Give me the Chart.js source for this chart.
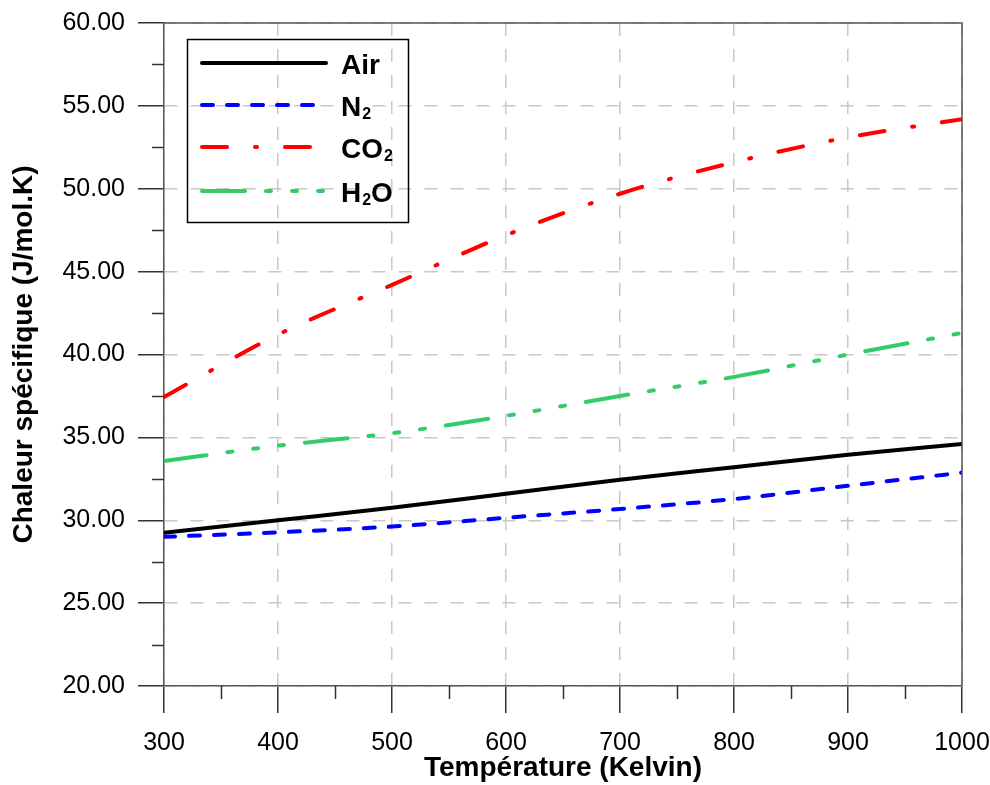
<!DOCTYPE html>
<html>
<head>
<meta charset="utf-8">
<script src="https://cdn.jsdelivr.net/npm/chart.js@4.4.0/dist/chart.umd.min.js"></script>
<style>
  html, body { margin: 0; padding: 0; background: #fff; }
  #cadre { width: 990px; height: 785px; }
</style>
</head>
<body>
<div id="cadre"><canvas id="graphique"></canvas></div>
<script>
// valeurs
const temperatures = [300, 400, 500, 600, 700, 800, 900, 1000];
const cpAir = [29.25, 30.0, 30.75, 31.6, 32.45, 33.2, 33.95, 34.6];
const cpN2 = [29.0, 29.27, 29.62, 30.15, 30.68, 31.28, 32.08, 32.87];
const cpCO2 = [37.44, 41.2, 44.2, 47.2, 49.7, 51.6, 53.1, 54.2];
const cpH2O = [33.57, 34.5, 35.25, 36.3, 37.5, 38.65, 40.0, 41.3];
const noms = ['Air', 'N2', 'CO2', 'H2O'];

const ticksX = [300, 400, 500, 600, 700, 800, 900, 1000];
const ticksY = [20, 25, 30, 35, 40, 45, 50, 55, 60];
const mineursX = [350, 450, 550, 650, 750, 850, 950];
const mineursY = [22.5, 27.5, 32.5, 37.5, 42.5, 47.5, 52.5, 57.5];

const police = "'Liberation Sans', Arial, sans-serif";
Chart.defaults.font.family = police;
Chart.defaults.color = '#000';

function points(valeurs) {
  return temperatures.map((t, i) => ({ x: t, y: valeurs[i] }));
}

// petites graduations + cadre haut/droite
const graduations = {
  id: 'graduations',
  afterDraw(chart) {
    const ctx = chart.ctx;
    const a = chart.chartArea;
    const sx = chart.scales.x, sy = chart.scales.y;
    ctx.save();
    ctx.strokeStyle = '#333';
    ctx.lineWidth = 1.5;
    ctx.beginPath();
    mineursX.forEach(v => {
      const x = Math.round(sx.getPixelForValue(v)) + 0.5;
      ctx.moveTo(x, a.bottom);
      ctx.lineTo(x, a.bottom + 13);
    });
    mineursY.forEach(v => {
      const y = Math.round(sy.getPixelForValue(v)) + 0.5;
      ctx.moveTo(a.left - 12, y);
      ctx.lineTo(a.left, y);
    });
    ctx.stroke();
    ctx.strokeStyle = '#555';
    ctx.beginPath();
    ctx.moveTo(a.left, a.top);
    ctx.lineTo(a.right, a.top);
    ctx.lineTo(a.right, a.bottom);
    ctx.stroke();
    ctx.restore();
  }
};

// légende dans le graphique, avec indices
const legende = {
  id: 'legende',
  afterDraw(chart) {
    const ctx = chart.ctx;
    const lignes = [63, 105, 147, 191];
    ctx.save();
    ctx.strokeStyle = '#000';
    ctx.lineWidth = 1.5;
    ctx.strokeRect(187.5, 39.5, 221, 183);
    chart.data.datasets.forEach((ds, i) => {
      const y = lignes[i];
      ctx.beginPath();
      ctx.strokeStyle = ds.borderColor;
      ctx.lineWidth = ds.borderWidth;
      ctx.lineCap = ds.borderCapStyle || 'butt';
      ctx.setLineDash(ds.borderDash || []);
      ctx.moveTo(202, y);
      ctx.lineTo(326, y);
      ctx.stroke();
      ctx.setLineDash([]);
      let x = 341;
      ctx.fillStyle = '#000';
      ctx.textBaseline = 'alphabetic';
      for (const c of ds.label) {
        if (/\d/.test(c)) {
          ctx.font = 'bold 16px ' + police;
          ctx.fillText(c, x + 1, y + 14);
          x += ctx.measureText(c).width + 1;
        } else {
          ctx.font = 'bold 28px ' + police;
          ctx.fillText(c, x, y + 11);
          x += ctx.measureText(c).width;
        }
      }
    });
    ctx.restore();
  }
};

new Chart(document.getElementById('graphique'), {
  type: 'line',
  data: {
    datasets: [
      {
        label: noms[0],
        data: points(cpAir),
        borderColor: '#000000',
        borderWidth: 4,
        borderCapStyle: 'round'
      },
      {
        label: noms[1],
        data: points(cpN2),
        borderColor: '#0000ff',
        borderWidth: 4,
        borderCapStyle: 'round',
        borderDash: [11, 14]
      },
      {
        label: noms[2],
        data: points(cpCO2),
        borderColor: '#ff0000',
        borderWidth: 4,
        borderCapStyle: 'round',
        borderDash: [25, 28, 2, 28]
      },
      {
        label: noms[3],
        data: points(cpH2O),
        borderColor: '#33cc66',
        borderWidth: 4,
        borderCapStyle: 'round',
        borderDash: [43, 21, 5, 21, 5, 21, 5, 21]
      }
    ]
  },
  options: {
    responsive: true,
    maintainAspectRatio: false,
    animation: false,
    layout: { padding: { top: 23, right: 28, left: 0, bottom: 0 } },
    elements: {
      point: { radius: 0 },
      line: { cubicInterpolationMode: 'monotone', fill: false }
    },
    plugins: {
      legend: { display: false },
      tooltip: { enabled: false }
    },
    scales: {
      x: {
        type: 'linear',
        min: 300,
        max: 1000,
        afterBuildTicks: s => { s.ticks = ticksX.map(v => ({ value: v })); },
        afterFit: s => {
          s.height = 99;
          s.paddingLeft = 0;
          s.paddingRight = 0;
        },
        ticks: {
          font: { size: 25 },
          padding: 15,
          maxRotation: 0,
          color: '#000',
          callback: v => String(v)
        },
        grid: {
          color: '#c8c8c8',
          lineWidth: 1.5,
          tickLength: 27,
          tickColor: '#333',
          tickWidth: 1.5
        },
        border: { color: '#555', width: 1.5, dash: [13, 13] },
        title: {
          display: true,
          text: 'Température (Kelvin)',
          font: { size: 28, weight: 'bold' },
          color: '#000',
          padding: { top: 0, bottom: 0 }
        }
      },
      y: {
        type: 'linear',
        min: 20,
        max: 60,
        afterBuildTicks: s => { s.ticks = ticksY.map(v => ({ value: v })); },
        afterFit: s => {
          s.width = 164;
          s.paddingTop = 0;
          s.paddingBottom = 0;
        },
        ticks: {
          font: { size: 25 },
          padding: 13,
          color: '#000',
          callback: v => Number(v).toFixed(2)
        },
        grid: {
          color: '#c8c8c8',
          lineWidth: 1.5,
          tickLength: 26,
          tickColor: '#333',
          tickWidth: 1.5
        },
        border: { color: '#555', width: 1.5, dash: [13, 13] },
        title: {
          display: true,
          text: 'Chaleur spécifique (J/mol.K)',
          font: { size: 28, weight: 'bold' },
          color: '#000',
          padding: { top: 7, bottom: 0 }
        }
      }
    }
  },
  plugins: [graduations, legende]
});
</script>
</body>
</html>
